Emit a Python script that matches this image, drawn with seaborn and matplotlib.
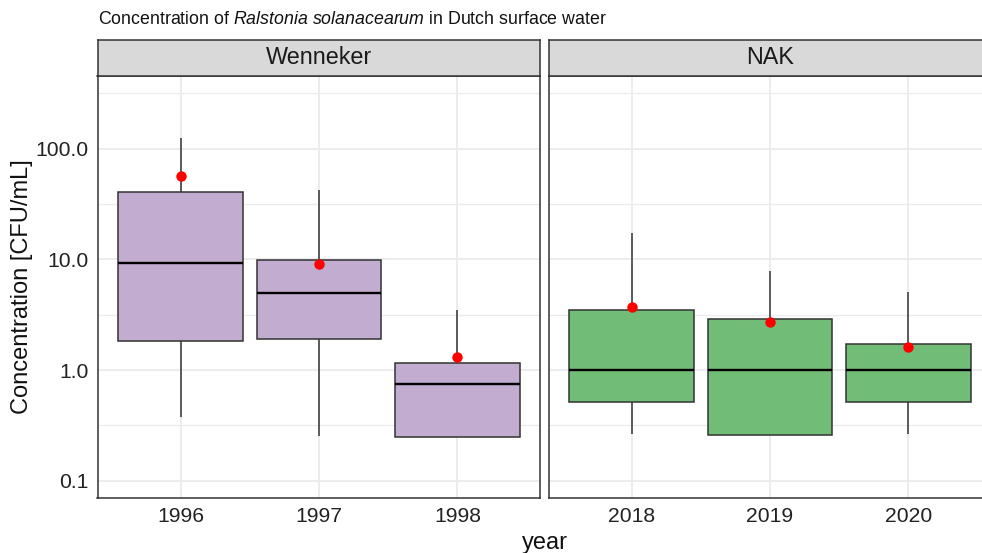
import matplotlib
matplotlib.use("Agg")
import matplotlib.pyplot as plt
import numpy as np
import pandas as pd
import seaborn as sns

# five-number summaries (CFU/mL), plus means
YEARS = ["1996", "1997", "1998", "2018", "2019", "2020"]
SOURCES = ["Wenneker", "Wenneker", "Wenneker", "NAK", "NAK", "NAK"]
WHISKER_LOW = [0.38, 0.255, 0.25, 0.262, 0.259, 0.262]
Q1 = [1.83, 1.91, 0.25, 0.517, 0.259, 0.517]
MEDIAN = [9.3, 5.0, 0.743, 1.0, 1.0, 1.0]
Q3 = [40.3, 9.86, 1.16, 3.48, 2.89, 1.73]
WHISKER_HIGH = [126.0, 42.3, 3.48, 17.2, 7.89, 5.1]
MEANS = [56.9, 9.0, 1.30, 3.73, 2.70, 1.62]

FACETS = ["Wenneker", "NAK"]
FACET_COLORS = {"Wenneker": "#C2ACD0", "NAK": "#71BD77"}
Y_MAJOR = [0.1, 1.0, 10.0, 100.0]
Y_LABELS = ["0.1", "1.0", "10.0", "100.0"]

W, H = 982, 553
EDGE = "#333333"
GRID = "#EBEBEB"


def main() -> None:
    rows = []
    for yr, src, *vals in zip(YEARS, SOURCES, WHISKER_LOW, Q1, MEDIAN, Q3, WHISKER_HIGH):
        for v in vals:
            rows.append({"year": yr, "source": src, "conc": v})
    data = pd.DataFrame(rows)
    means = pd.DataFrame({"year": YEARS, "source": SOURCES, "conc": MEANS})

    sns.set_theme(style="white")
    plt.rcParams["font.family"] = ["Liberation Sans", "DejaVu Sans"]
    plt.rcParams["mathtext.fontset"] = "custom"
    plt.rcParams["mathtext.rm"] = "Liberation Sans"
    plt.rcParams["mathtext.it"] = "Liberation Sans:italic"

    fig = plt.figure(figsize=(W / 100, H / 100), dpi=100)
    fig.patch.set_facecolor("white")

    panel_lefts = [97.5, 548.5]
    panel_w = 443
    panel_top, panel_bottom = 76, 498
    strip_top = 40

    for i, facet in enumerate(FACETS):
        left = panel_lefts[i]
        ax = fig.add_axes([left / W, (H - panel_bottom) / H, panel_w / W,
                           (panel_bottom - panel_top) / H])
        sub = data[data["source"] == facet]
        sub_means = means[means["source"] == facet]
        order = [y for y, s in zip(YEARS, SOURCES) if s == facet]

        sns.boxplot(
            data=sub, x="year", y="conc", order=order,
            color=FACET_COLORS[facet], saturation=1, width=0.9,
            whis=(0, 100), linecolor=EDGE, linewidth=1.1,
            log_scale=True, showcaps=False,
            medianprops=dict(color="black", linewidth=1.7),
            ax=ax, zorder=3,
        )
        sns.stripplot(
            data=sub_means, x="year", y="conc", order=order,
            color="#FF0000", jitter=False, size=7.5, linewidth=0,
            ax=ax, zorder=5,
        )

        ax.set_xlim(-0.6, 2.6)
        ax.set_ylim(0.0698, 453)
        ax.set_yticks(Y_MAJOR)
        ax.set_yticks([10 ** -0.5, 10 ** 0.5, 10 ** 1.5, 10 ** 2.5], minor=True)
        ax.set_axisbelow(True)
        ax.grid(which="major", color=GRID, linewidth=1.3, zorder=0)
        ax.grid(which="minor", axis="y", color=GRID, linewidth=0.9, zorder=0)
        ax.tick_params(which="minor", length=0, left=False, right=False,
                       labelleft=False)
        ax.tick_params(axis="both", which="major", length=3.5, width=1,
                       color=EDGE, labelsize=15.2, labelcolor="#222222", pad=3)
        if i == 0:
            ax.set_yticklabels(Y_LABELS)
        else:
            ax.tick_params(axis="y", left=False, labelleft=False)
        ax.set_xlabel("")
        ax.set_ylabel("")
        for sp in ax.spines.values():
            sp.set_visible(True)
            sp.set_color(EDGE)
            sp.set_linewidth(1.1)

        # facet strip
        sax = fig.add_axes([left / W, (H - panel_top) / H, panel_w / W,
                            (panel_top - strip_top) / H])
        sax.set_facecolor("#D9D9D9")
        sax.set_xticks([])
        sax.set_yticks([])
        sax.tick_params(length=0)
        for sp in sax.spines.values():
            sp.set_color(EDGE)
            sp.set_linewidth(1.1)
        sax.text(0.5, 0.5, facet, ha="center", va="center", fontsize=16.8,
                 color="#1A1A1A", transform=sax.transAxes)

    fig.text(97.5 / W, 1 - 20 / H,
             r"Concentration of $\it{Ralstonia\ solanacearum}$ in Dutch surface water",
             ha="left", va="center", fontsize=12.8, color="#111111")
    fig.text(22 / W, 1 - 287 / H, "Concentration [CFU/mL]", rotation=90,
             ha="center", va="center", fontsize=17, color="#111111")
    fig.text(544.5 / W, 1 - 543 / H, "year", ha="center", va="center",
             fontsize=17, color="#111111")

    fig.savefig("out.png", dpi=100)


if __name__ == "__main__":
    main()
